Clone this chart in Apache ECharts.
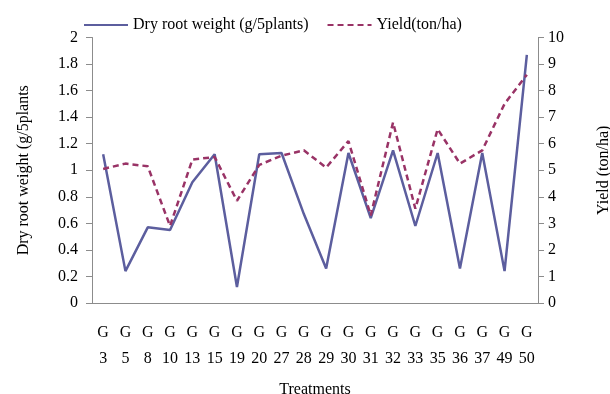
<!DOCTYPE html>
<html>
<head>
<meta charset="utf-8">
<script src="https://cdn.jsdelivr.net/npm/echarts@6/dist/echarts.min.js"></script>
<style>html,body{margin:0;padding:0;background:#fff;}</style>
</head>
<body>
<div id="main" style="width:610px;height:394px;"></div>
<script>
var treatments = ['G\n3','G\n5','G\n8','G\n10','G\n13','G\n15','G\n19','G\n20','G\n27','G\n28','G\n29','G\n30','G\n31','G\n32','G\n33','G\n35','G\n36','G\n37','G\n49','G\n50'];
var dryRoot = [1.12,0.24,0.57,0.55,0.91,1.12,0.12,1.12,1.13,0.67,0.26,1.13,0.64,1.15,0.58,1.13,0.26,1.13,0.24,1.87];
var yieldVals = [5.05,5.25,5.15,2.9,5.4,5.5,3.85,5.2,5.55,5.75,5.1,6.1,3.3,6.8,3.55,6.55,5.25,5.75,7.5,8.6];

var font = 'Liberation Serif';
var axisGray = '#8c8c8c';
var chart = echarts.init(document.getElementById('main'));
chart.setOption({
    animation: false,
    textStyle: {fontFamily: font, color: '#000'},
    legend: {
        top: 12,
        left: 78,
        itemWidth: 44,
        itemHeight: 12,
        itemGap: 18,
        itemStyle: {opacity: 0},
        textStyle: {fontFamily: font, fontSize: 16, color: '#000'},
        data: ['Dry root weight (g/5plants)', 'Yield(ton/ha)']
    },
    grid: {left: 92, right: 72, top: 37.5, bottom: 91, outerBoundsMode: 'none'},
    xAxis: {
        type: 'category',
        data: treatments,
        name: 'Treatments',
        nameLocation: 'middle',
        nameGap: 79,
        nameTextStyle: {fontFamily: font, fontSize: 16, color: '#000'},
        axisLine: {lineStyle: {color: axisGray}},
        axisTick: {length: 6, lineStyle: {color: axisGray}},
        axisLabel: {interval: 0, margin: 17, lineHeight: 26, fontFamily: font, fontSize: 16, color: '#000'}
    },
    yAxis: [{
        type: 'value',
        min: 0, max: 2, interval: 0.2,
        name: 'Dry root weight (g/5plants',
        nameLocation: 'middle',
        nameGap: 60,
        nameTextStyle: {fontFamily: font, fontSize: 16, color: '#000'},
        splitLine: {show: false},
        axisLine: {show: true, lineStyle: {color: axisGray}},
        axisTick: {show: true, length: 6, lineStyle: {color: axisGray}},
        axisLabel: {margin: 14, fontFamily: font, fontSize: 16, color: '#000'}
    }, {
        type: 'value',
        position: 'right',
        min: 0, max: 10, interval: 1,
        name: 'Yield (ton/ha)',
        nameLocation: 'middle',
        nameRotate: 90,
        nameGap: 58,
        nameTextStyle: {fontFamily: font, fontSize: 16, color: '#000'},
        splitLine: {show: false},
        axisLine: {show: true, lineStyle: {color: axisGray}},
        axisTick: {show: true, length: 6, lineStyle: {color: axisGray}},
        axisLabel: {margin: 10, fontFamily: font, fontSize: 16, color: '#000'}
    }],
    series: [{
        name: 'Dry root weight (g/5plants)',
        type: 'line',
        data: dryRoot,
        symbol: 'none',
        color: '#5c5e9e',
        lineStyle: {width: 2.5, color: '#5c5e9e'}
    }, {
        name: 'Yield(ton/ha)',
        type: 'line',
        yAxisIndex: 1,
        data: yieldVals,
        symbol: 'none',
        color: '#993366',
        lineStyle: {width: 2.5, color: '#993366', type: [6, 4]}
    }]
});
</script>
</body>
</html>
